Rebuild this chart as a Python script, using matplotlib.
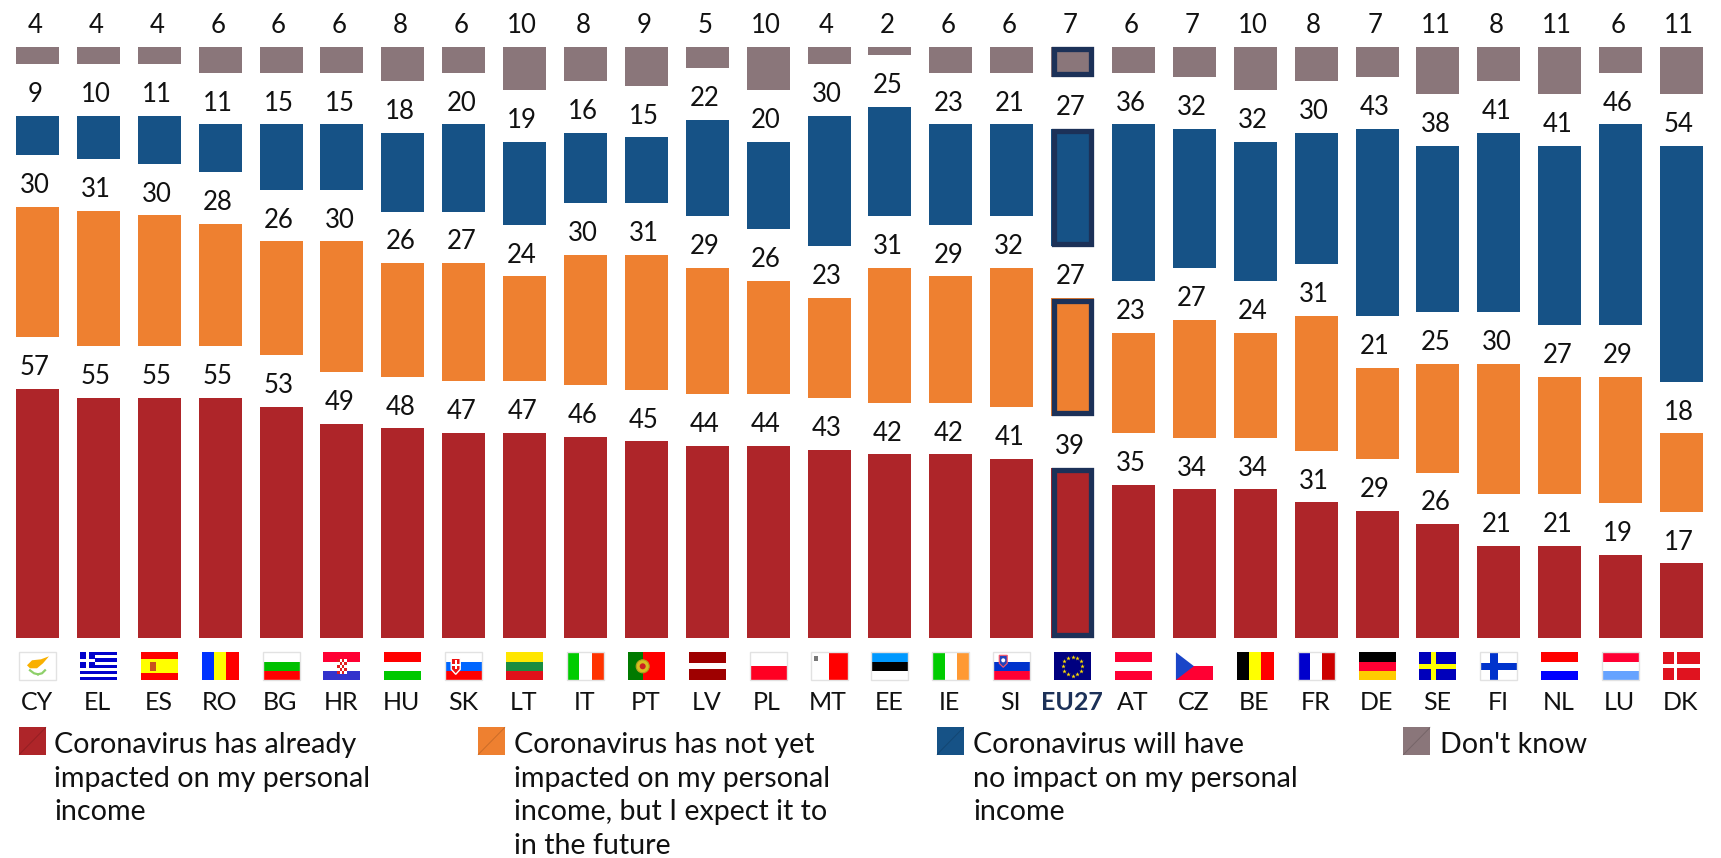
import numpy as np
import matplotlib
matplotlib.use("Agg")
import matplotlib.pyplot as plt
from matplotlib.patches import Rectangle, Polygon, Circle

countries = ["CY", "EL", "ES", "RO", "BG", "HR", "HU", "SK", "LT", "IT", "PT", "LV", "PL", "MT",
             "EE", "IE", "SI", "EU27", "AT", "CZ", "BE", "FR", "DE", "SE", "FI", "NL", "LU", "DK"]
already = [57, 55, 55, 55, 53, 49, 48, 47, 47, 46, 45, 44, 44, 43,
           42, 42, 41, 39, 35, 34, 34, 31, 29, 26, 21, 21, 19, 17]
not_yet = [30, 31, 30, 28, 26, 30, 26, 27, 24, 30, 31, 29, 26, 23,
           31, 29, 32, 27, 23, 27, 24, 31, 21, 25, 30, 27, 29, 18]
no_impact = [9, 10, 11, 11, 15, 15, 18, 20, 19, 16, 15, 22, 20, 30,
             25, 23, 21, 27, 36, 32, 32, 30, 43, 38, 41, 41, 46, 54]
dont_know = [4, 4, 4, 6, 6, 6, 8, 6, 10, 8, 9, 5, 10, 4,
             2, 6, 6, 7, 6, 7, 10, 8, 7, 11, 8, 11, 6, 11]
legend_labels = [
    ["Coronavirus has already", "impacted on my personal", "income"],
    ["Coronavirus has not yet", "impacted on my personal", "income, but I expect it to", "in the future"],
    ["Coronavirus will have", "no impact on my personal", "income"],
    ["Don't know"],
]

RED, ORANGE, BLUE, GREY = "#ae2529", "#ee8030", "#165286", "#8a767a"
NAVY = "#1c3158"
FONT = "Lato"

W, H = 1721, 858
FIRST_X, PITCH = 37.5, 60.89
BASE_Y, UNIT = 637.6, 4.36
GAP = 51.7 / UNIT

fig = plt.figure(figsize=(W / 100, H / 100), dpi=100)

# bars live in value units, everything else on a pixel page
ax = fig.add_axes([0, 0, 1, 1])
ax.set_xlim(-FIRST_X / PITCH, (W - FIRST_X) / PITCH)
ax.set_ylim(-(H - BASE_Y) / UNIT, BASE_Y / UNIT)
ax.axis("off")

page = fig.add_axes([0, 0, 1, 1], facecolor="none")
page.set_xlim(0, W)
page.set_ylim(H, 0)
page.axis("off")

x = np.arange(len(countries))
eu = countries.index("EU27")
bottom = np.zeros(len(countries))
for values, color in zip([already, not_yet, no_impact, dont_know], [RED, ORANGE, BLUE, GREY]):
    values = np.array(values, dtype=float)
    ax.bar(x, values, 0.706, bottom=bottom, color=color, linewidth=0)
    # navy outline on the EU27 bar, sitting inside the bar
    inset_y = 2.65 / UNIT
    ax.bar(x[eu], values[eu] - 2 * inset_y, 0.706 - 5.3 / PITCH, bottom=bottom[eu] + inset_y,
           fill=False, edgecolor=NAVY, linewidth=5.3 * 0.72, joinstyle="miter")
    for xi, v, b in zip(x, values, bottom):
        ax.text(xi - 2.5 / PITCH, b + v + 13.8 / UNIT, str(int(v)), ha="center", va="baseline",
                fontsize=18.5, family=FONT, color="#111111")
    bottom = bottom + values + GAP


def stripes(x0, y0, w, h, colors, weights=None, vertical=False):
    weights = weights or [1] * len(colors)
    total = sum(weights)
    pos = 0
    for c, wt in zip(colors, weights):
        if vertical:
            page.add_patch(Rectangle((x0 + w * pos / total, y0), w * wt / total, h, color=c, lw=0))
        else:
            page.add_patch(Rectangle((x0, y0 + h * pos / total), w, h * wt / total, color=c, lw=0))
        pos += wt


plain_flags = {
    "RO": (["#0033ff", "#ffff00", "#ff0000"], None, True),
    "BG": (["#ffffff", "#00c000", "#ff0000"], None, False),
    "HR": (["#ff0033", "#ffffff", "#3333cc"], None, False),
    "HU": (["#ff0000", "#ffffff", "#00c800"], None, False),
    "SK": (["#ffffff", "#0066ff", "#ff0000"], None, False),
    "LT": (["#ffe600", "#1a8c40", "#e0101a"], None, False),
    "IT": (["#00cc00", "#ffffff", "#ff3300"], None, True),
    "ES": (["#ff0000", "#ffff00", "#ff0000"], [1, 2, 1], False),
    "PT": (["#007a00", "#ff0000"], [2, 3], True),
    "LV": (["#9e0000", "#ffffff", "#9e0000"], [2, 1, 2], False),
    "PL": (["#ffffff", "#ff0022"], None, False),
    "MT": (["#ffffff", "#ff0000"], None, True),
    "EE": (["#0099ff", "#000000", "#ffffff"], None, False),
    "IE": (["#00cc00", "#ffffff", "#ff9933"], None, True),
    "SI": (["#ffffff", "#0033cc", "#ff0033"], None, False),
    "AT": (["#ff0033", "#ffffff", "#ff0033"], None, False),
    "CZ": (["#ffffff", "#ff0033"], None, False),
    "BE": (["#000000", "#ffff00", "#ff0000"], None, True),
    "FR": (["#0000cc", "#ffffff", "#cc0000"], None, True),
    "DE": (["#000000", "#ff0033", "#ffcc00"], None, False),
    "NL": (["#ff0000", "#ffffff", "#0000ff"], None, False),
    "LU": (["#ff0033", "#ffffff", "#66a3ff"], None, False),
    "CY": (["#ffffff"], None, False),
    "EU27": (["#000080"], None, False),
    "EL": (["#0000cc", "#ffffff"] * 4 + ["#0000cc"], None, False),
    "SE": (["#0000bb"], None, False),
    "FI": (["#ffffff"], None, False),
    "DK": (["#e0131f"], None, False),
}


def cross(x0, y0, w, h, color, thick, at=0.37):
    page.add_patch(Rectangle((x0 + w * at - thick / 2, y0), thick, h, color=color, lw=0))
    page.add_patch(Rectangle((x0, y0 + h / 2 - thick / 2), w, thick, color=color, lw=0))


# flags under the bars
FW, FH, FY = 37, 27.7, 652.3
for i, code in enumerate(countries):
    fx = FIRST_X + PITCH * i - FW / 2
    cols, weights, vertical = plain_flags[code]
    stripes(fx, FY, FW, FH, cols, weights, vertical)
    if code == "CY":
        page.add_patch(Polygon([(fx + 8, FY + 13), (fx + 13, FY + 8), (fx + 22, FY + 7), (fx + 30, FY + 4),
                                (fx + 24, FY + 11), (fx + 18, FY + 16), (fx + 11, FY + 16)],
                               color="#f9b000", lw=0))
        page.plot([fx + 11, fx + 15, fx + 19], [FY + 18, FY + 21, FY + 22], color="#8ed06a", lw=1.6)
        page.plot([fx + 26, fx + 23, fx + 19], [FY + 18, FY + 21, FY + 22], color="#8ed06a", lw=1.6)
    elif code == "EL":
        page.add_patch(Rectangle((fx, FY), 15, 15.4, color="#0000cc", lw=0))
        page.add_patch(Rectangle((fx + 6, FY), 3, 15.4, color="white", lw=0))
        page.add_patch(Rectangle((fx, FY + 6.2), 15, 3, color="white", lw=0))
    elif code == "ES":
        page.add_patch(Rectangle((fx + 9, FY + 9.5), 6, 9, color="#c8501e", lw=0))
    elif code == "HR":
        for r in range(5):
            for c in range(4):
                page.add_patch(Rectangle((fx + 14 + c * 2.3, FY + 7 + r * 3), 2.3, 3,
                                         color="#e02020" if (r + c) % 2 == 0 else "white", lw=0))
    elif code == "SK":
        page.add_patch(Polygon([(fx + 6, FY + 6), (fx + 15, FY + 6), (fx + 15, FY + 17), (fx + 10.5, FY + 22),
                                (fx + 6, FY + 17)], facecolor="#ee1111", edgecolor="white", lw=1))
        cross(fx + 7.2, FY + 8, 9, 9, "white", 1.8)
    elif code == "PT":
        page.add_patch(Circle((fx + 14.8, FY + 14), 6.5, facecolor="#d8c020", edgecolor="#b0a020", lw=0.8))
        page.add_patch(Circle((fx + 14.8, FY + 14), 3, color="#cc2222", lw=0))
    elif code == "MT":
        page.add_patch(Rectangle((fx + 3, FY + 4), 4.5, 4.5, color="#777777", lw=0))
    elif code == "SI":
        page.add_patch(Polygon([(fx + 6, FY + 3), (fx + 14, FY + 3), (fx + 14, FY + 11), (fx + 10, FY + 15),
                                (fx + 6, FY + 11)], facecolor="#2244bb", edgecolor="#ff5566", lw=0.8))
        page.add_patch(Circle((fx + 10, FY + 8), 2, color="white", lw=0))
    elif code == "EU27":
        ang = np.linspace(0, 2 * np.pi, 12, endpoint=False)
        page.plot(fx + FW / 2 + 9.5 * np.cos(ang), FY + FH / 2 + 9.5 * np.sin(ang), ls="none",
                  marker="*", ms=3.4, color="#ffdd00", mew=0)
    elif code == "CZ":
        page.add_patch(Polygon([(fx, FY), (fx + 18, FY + FH / 2), (fx, FY + FH)], color="#1a45c8", lw=0))
    elif code == "SE":
        cross(fx, FY, FW, FH, "#ffff00", 5.2)
    elif code == "FI":
        cross(fx, FY, FW, FH, "#0033cc", 7.2)
    elif code == "DK":
        cross(fx, FY, FW, FH, "white", 3.4, at=0.33)
    if code in ("CY", "BG", "SK", "PL", "MT", "EE", "FI", "IE", "IT", "FR", "SI", "LU"):
        page.add_patch(Rectangle((fx, FY), FW, FH, fill=False, edgecolor="#e2e2e2", lw=1))

    page.text(fx + FW / 2 - 1, 710.5, code, ha="center", va="baseline", family=FONT,
              fontsize=18, color=NAVY if code == "EU27" else "#111111",
              fontweight="bold" if code == "EU27" else "normal")

# legend
swatch_x = [19, 478, 936.8, 1403.3]
text_x = [54.3, 513.6, 973, 1440]
for sx, tx, lines, color in zip(swatch_x, text_x, legend_labels, [RED, ORANGE, BLUE, GREY]):
    page.add_patch(Rectangle((sx, 727.3), 27, 27.4, color=color, lw=0))
    page.plot([sx, sx + 27], [754.7, 727.3], color="black", alpha=0.15, lw=0.7)
    for k, line in enumerate(lines):
        page.text(tx, 753 + k * 33.7, line, ha="left", va="baseline", family=FONT,
                  fontsize=20.6, color="#111111")

fig.savefig("out.png", dpi=100, facecolor="white")
